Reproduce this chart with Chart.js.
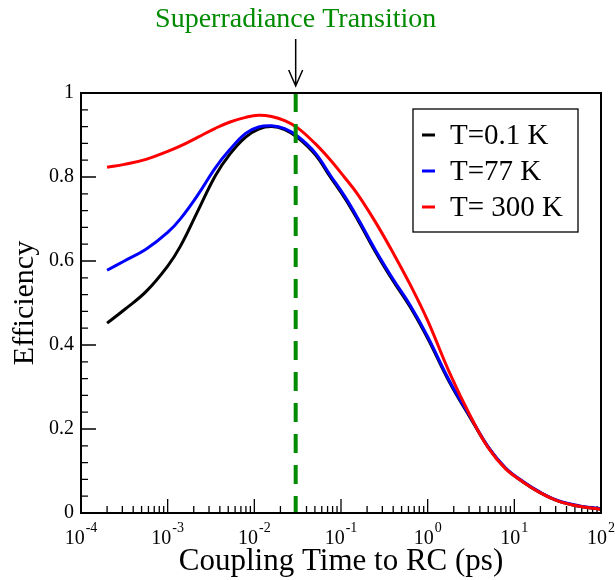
<!DOCTYPE html>
<html>
<head>
<meta charset="utf-8">
<script src="https://cdn.jsdelivr.net/npm/chart.js@4"></script>
<style>
  body { margin: 0; background: #fff; }
  #wrap { width: 615px; height: 580px; }
</style>
</head>
<body>
<div id="wrap"><canvas id="eff-chart"></canvas></div>
<script>
// coupling time to RC (ps), shared by all three curves
const couplingTimes = [0.0002, 0.000316, 0.000562, 0.001, 0.00141, 0.00224, 0.00355, 0.00525,
    0.00794, 0.0112, 0.0158, 0.0224, 0.0316, 0.0501, 0.0759, 0.112, 0.158, 0.251, 0.398,
    0.631, 1, 1.78, 3.16, 5.01, 7.94, 12.6, 20, 31.6, 56.2, 100];
const effT01 = [0.452, 0.484, 0.527, 0.588, 0.636, 0.720, 0.803, 0.855, 0.895, 0.914, 0.920,
    0.913, 0.894, 0.854, 0.799, 0.748, 0.696, 0.621, 0.553, 0.490, 0.416, 0.312, 0.224,
    0.156, 0.106, 0.074, 0.048, 0.029, 0.016, 0.009];
const effT77 = [0.578, 0.600, 0.628, 0.668, 0.701, 0.758, 0.822, 0.866, 0.904, 0.919, 0.922,
    0.915, 0.897, 0.858, 0.803, 0.752, 0.700, 0.625, 0.557, 0.494, 0.420, 0.315, 0.226,
    0.157, 0.107, 0.075, 0.049, 0.030, 0.017, 0.010];
const effT300 = [0.823, 0.830, 0.842, 0.861, 0.874, 0.895, 0.916, 0.931, 0.942, 0.947, 0.944,
    0.934, 0.917, 0.880, 0.840, 0.797, 0.757, 0.692, 0.620, 0.543, 0.458, 0.335, 0.228,
    0.155, 0.105, 0.074, 0.048, 0.029, 0.016, 0.009];
const seriesLabels = ['T=0.1 K', 'T=77 K', 'T= 300 K'];
const transitionTime = 0.03;
const xDecades = [-4, -3, -2, -1, 0, 1, 2];
const yTickStep = 0.2;

const serif = '"Liberation Serif", "DejaVu Serif", serif';
const green = 'rgb(0,139,0)';

function pts(ys) {
    return couplingTimes.map((x, i) => ({ x: x, y: ys[i] }));
}

// inward tick marks, decade labels, frame, legend, annotation
const decor = {
    id: 'decor',
    beforeDatasetsDraw(chart) {
        const { ctx, chartArea: a, scales: { x, y } } = chart;
        ctx.save();
        ctx.strokeStyle = '#000';
        ctx.lineWidth = 1.3;
        ctx.beginPath();
        for (let i = 0; i <= 25; i++) {
            const py = y.getPixelForValue(i * 0.04);
            const len = i % 5 === 0 ? 15 : 7;
            ctx.moveTo(a.left, py);
            ctx.lineTo(a.left + len, py);
        }
        for (let e = -4; e <= 2; e++) {
            for (let m = 1; m <= 9; m++) {
                if (e === 2 && m > 1) break;
                const px = x.getPixelForValue(m * Math.pow(10, e));
                const len = m === 1 ? 14 : 7;
                ctx.moveTo(px, a.bottom);
                ctx.lineTo(px, a.bottom - len);
            }
        }
        ctx.stroke();
        ctx.restore();
    },
    afterDraw(chart) {
        const { ctx, chartArea: a, scales: { x } } = chart;
        ctx.save();
        // frame
        ctx.strokeStyle = '#000';
        ctx.lineWidth = 2;
        ctx.strokeRect(a.left, a.top, a.right - a.left, a.bottom - a.top);

        // x decade labels 10^n
        ctx.fillStyle = '#000';
        ctx.textBaseline = 'alphabetic';
        ctx.textAlign = 'left';
        xDecades.forEach(e => {
            const px = x.getPixelForValue(Math.pow(10, e));
            ctx.font = '20px ' + serif;
            const wb = ctx.measureText('10').width;
            ctx.font = '14px ' + serif;
            const exp = String(e);
            const we = ctx.measureText(exp).width;
            const x0 = px - (wb + we + 1) / 2;
            ctx.font = '20px ' + serif;
            ctx.fillText('10', x0, 544);
            ctx.font = '14px ' + serif;
            ctx.fillText(exp, x0 + wb + 1, 532);
        });

        // legend
        const lx = 413, ly = 109, lw = 165, lh = 123;
        ctx.fillStyle = '#fff';
        ctx.fillRect(lx, ly, lw, lh);
        ctx.strokeStyle = '#000';
        ctx.lineWidth = 1.3;
        ctx.strokeRect(lx, ly, lw, lh);
        ctx.font = '29px ' + serif;
        ctx.textBaseline = 'middle';
        chart.data.datasets.filter(d => d.inLegend).forEach((d, i) => {
            const cy = 135 + i * 36;
            ctx.strokeStyle = d.borderColor;
            ctx.lineWidth = 3;
            ctx.beginPath();
            ctx.moveTo(422, cy);
            ctx.lineTo(435, cy);
            ctx.stroke();
            ctx.fillStyle = '#000';
            ctx.fillText(d.label, 450, cy + 1);
        });

        // transition annotation
        const tx = x.getPixelForValue(transitionTime);
        ctx.fillStyle = green;
        ctx.textAlign = 'center';
        ctx.textBaseline = 'alphabetic';
        ctx.font = '28px ' + serif;
        ctx.fillText('Superradiance Transition', tx, 27);
        ctx.strokeStyle = '#000';
        ctx.lineWidth = 1.5;
        ctx.beginPath();
        ctx.moveTo(tx, 39);
        ctx.lineTo(tx, 86);
        ctx.moveTo(tx - 7, 70);
        ctx.lineTo(tx, 86);
        ctx.lineTo(tx + 7, 70);
        ctx.stroke();
        ctx.restore();
    }
};

const ctx = document.getElementById('eff-chart').getContext('2d');
new Chart(ctx, {
    type: 'line',
    data: {
        datasets: [
            { label: seriesLabels[0], data: pts(effT01), borderColor: '#000000', inLegend: true, order: 3 },
            { label: seriesLabels[1], data: pts(effT77), borderColor: '#0000ff', inLegend: true, order: 2 },
            { label: seriesLabels[2], data: pts(effT300), borderColor: '#ff0000', inLegend: true, order: 1 },
            {
                label: 'transition',
                data: [{ x: transitionTime, y: 1 }, { x: transitionTime, y: 0 }],
                borderColor: green,
                borderWidth: 4,
                borderDash: [19, 12],
                tension: 0,
                order: 0
            }
        ]
    },
    options: {
        responsive: true,
        maintainAspectRatio: false,
        animation: false,
        layout: { padding: { top: 93, right: 14, left: 0, bottom: 0 } },
        elements: {
            point: { radius: 0 },
            line: { borderWidth: 3, tension: 0.4, fill: false }
        },
        plugins: { legend: { display: false }, tooltip: { enabled: false } },
        scales: {
            x: {
                type: 'logarithmic',
                min: 1e-4,
                max: 1e2,
                grid: { display: false, drawTicks: false },
                border: { display: false },
                ticks: { display: false },
                title: {
                    display: true,
                    text: 'Coupling Time to RC (ps)',
                    color: '#000',
                    font: { family: serif, size: 31 },
                    padding: { top: 0, bottom: 0 }
                },
                afterFit(scale) { scale.height = 67; }
            },
            y: {
                min: 0,
                max: 1,
                grid: { display: false, drawTicks: false },
                border: { display: false },
                ticks: {
                    stepSize: yTickStep,
                    padding: 7,
                    color: '#000',
                    font: { family: serif, size: 20 },
                    callback: v => String(Math.round(v * 10) / 10)
                },
                title: {
                    display: true,
                    text: 'Efficiency',
                    color: '#000',
                    font: { family: serif, size: 30 },
                    padding: { top: 7, bottom: 0 }
                },
                afterFit(scale) { scale.width = 81; }
            }
        }
    },
    plugins: [decor]
});
</script>
</body>
</html>
